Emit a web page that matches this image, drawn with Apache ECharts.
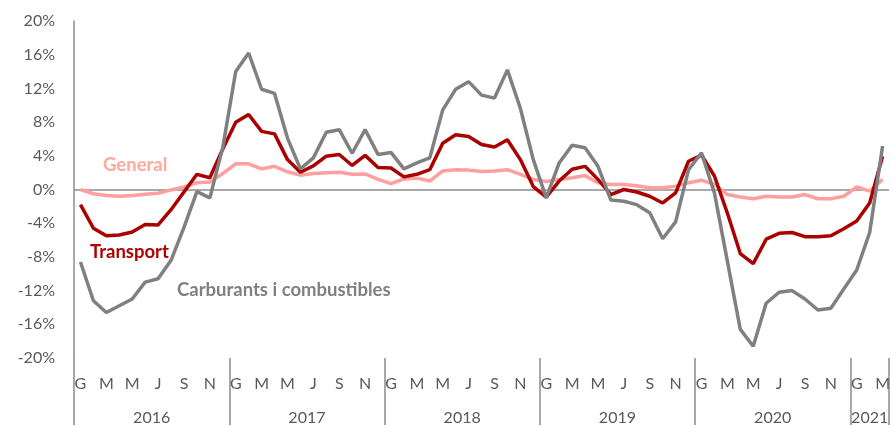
<!DOCTYPE html>
<html><head><meta charset="utf-8">
<script src="https://cdn.jsdelivr.net/npm/echarts@6/dist/echarts.min.js"></script>
<style>html,body{margin:0;padding:0;background:#fff}#c{width:893px;height:426px}</style>
</head><body><div id="c"></div>
<script>
const years = ['2016','2017','2018','2019','2020','2021'];
const monthInitials = ['G','F','M','A','M','J','J','A','S','O','N','D'];
const seriesNames = ['General','Transport','Carburants i combustibles'];

const general = [
  0.0,-0.5,-0.7,-0.8,-0.7,-0.55,-0.45,-0.05,0.3,0.8,0.9,1.9,
  3.05,3.05,2.45,2.75,2.1,1.7,1.9,2.0,2.05,1.8,1.85,1.2,
  0.7,1.25,1.35,1.0,2.2,2.35,2.3,2.15,2.2,2.35,1.8,1.2,
  0.95,1.2,1.4,1.65,0.8,0.6,0.6,0.45,0.2,0.2,0.4,0.8,
  1.1,0.6,-0.6,-0.9,-1.1,-0.8,-0.9,-0.9,-0.6,-1.1,-1.1,-0.8,
  0.3,-0.2,1.2
];
const transport = [
  -1.8,-4.6,-5.5,-5.4,-5.05,-4.15,-4.2,-2.4,-0.3,1.8,1.4,4.8,
  7.97,8.9,6.9,6.6,3.55,2.05,2.8,3.95,4.15,2.85,4.05,2.6,
  2.55,1.5,1.8,2.35,5.5,6.5,6.3,5.35,5.05,5.9,3.55,0.35,
  -0.9,1.0,2.4,2.75,1.2,-0.6,0.0,-0.3,-0.8,-1.6,-0.4,3.35,
  4.1,1.6,-2.8,-7.6,-8.8,-5.9,-5.2,-5.1,-5.6,-5.6,-5.5,-4.65,
  -3.75,-1.6,3.95
];
const carburants = [
  -8.6,-13.2,-14.6,-13.8,-13.0,-11.0,-10.6,-8.4,-4.5,-0.25,-1.0,5.0,
  14.0,16.2,11.9,11.4,6.1,2.45,3.75,6.8,7.1,4.3,7.1,4.15,
  4.4,2.45,3.15,3.75,9.45,11.9,12.8,11.2,10.85,14.2,9.65,3.55,
  -1.0,3.15,5.25,4.95,2.75,-1.25,-1.4,-1.8,-2.75,-5.85,-3.85,2.35,
  4.35,-0.4,-8.5,-16.6,-18.6,-13.5,-12.2,-12.0,-13.0,-14.3,-14.1,-11.8,
  -9.55,-5.1,5.15
];

const categories = general.map((_, i) => monthInitials[i % 12] + ' ' + years[Math.floor(i / 12)]);
const lastYearMid = 60 + 1;

const FONT = 'Lato, "Open Sans", sans-serif';
const axisGrey = '#8c8c8c';
const labelGrey = '#595959';

const chart = echarts.init(document.getElementById('c'), null, {renderer: 'canvas'});
chart.setOption({
  animation: false,
  backgroundColor: '#ffffff',
  grid: {left: 74, right: 0, top: 21, bottom: 67, containLabel: false},
  xAxis: [
    {
      type: 'category', data: categories, boundaryGap: true, position: 'bottom',
      axisLine: {show: false}, axisTick: {show: false},
      axisLabel: {
        interval: (i) => i % 2 === 0,
        formatter: (v) => v.split(' ')[0],
        color: labelGrey, fontSize: 16, fontFamily: FONT, margin: 18
      }
    },
    {
      type: 'category', data: categories, boundaryGap: true, position: 'bottom', offset: 0,
      axisLine: {show: false},
      axisTick: {show: true, interval: (i) => i % 12 === 0, length: 67, inside: false,
                 lineStyle: {color: axisGrey, width: 1.5}},
      axisLabel: {
        interval: (i) => (i % 12 === 5 && i < 60) || i === lastYearMid,
        formatter: (v, i) => {
          const y = v.split(' ')[1];
          return i === lastYearMid ? '{b|' + y + '}' : '{a|' + y + '}';
        },
        margin: 52,
        rich: {
          a: {color: labelGrey, fontSize: 16, fontFamily: FONT, padding: [0, 0, 0, 13]},
          b: {color: labelGrey, fontSize: 16, fontFamily: FONT}
        }
      }
    }
  ],
  yAxis: {
    type: 'value', min: -20, max: 20, interval: 4,
    axisLine: {show: true, lineStyle: {color: axisGrey, width: 1.5}},
    axisTick: {show: false}, splitLine: {show: false},
    axisLabel: {formatter: '{value}%', color: labelGrey, fontSize: 16, fontFamily: FONT, margin: 19}
  },
  series: [
    {
      name: seriesNames[0], type: 'line', data: general, symbol: 'none',
      lineStyle: {color: '#ff9f9f', width: 3.5}, z: 3,
      markLine: {
        silent: true, symbol: 'none', label: {show: false},
        lineStyle: {color: axisGrey, width: 1.5, type: 'solid'},
        data: [{yAxis: 0}], z: 1
      }
    },
    {
      name: seriesNames[1], type: 'line', data: transport, symbol: 'none',
      lineStyle: {color: '#aa0000', width: 3.5}, z: 4
    },
    {
      name: seriesNames[2], type: 'line', data: carburants, symbol: 'none',
      lineStyle: {color: '#808080', width: 3.5}, z: 5
    }
  ],
  graphic: [
    {type: 'text', left: 103, top: 156, z: 10,
     style: {text: seriesNames[0], fill: '#ffa99f', font: 'bold 18.5px ' + FONT}},
    {type: 'text', left: 90, top: 243, z: 10,
     style: {text: seriesNames[1], fill: '#b00000', font: 'bold 18.5px ' + FONT}},
    {type: 'text', left: 177, top: 281, z: 10,
     style: {text: seriesNames[2], fill: '#808080', font: 'bold 18.5px ' + FONT}}
  ]
});
</script>
</body></html>
